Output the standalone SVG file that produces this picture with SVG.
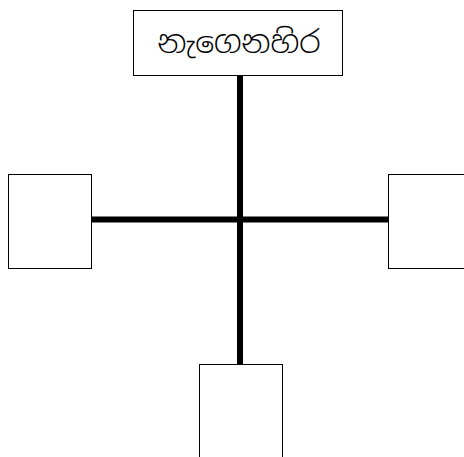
<svg xmlns="http://www.w3.org/2000/svg" width="464" height="457" viewBox="0 0 464 457">
<style>
.box{fill:#fff;stroke:#000;stroke-width:1}
.conn{stroke:#000;stroke-width:6;fill:none}
.lbl{font-family:"Noto Sans Sinhala","Iskoola Pota","Noto Sans","DejaVu Sans",sans-serif;font-size:31px;font-weight:300;fill:#000}
</style>
<rect width="464" height="457" fill="#fff"/>
<g id="connectors">
<line class="conn" x1="240" y1="75" x2="240" y2="364"/>
<line class="conn" x1="92" y1="219.5" x2="388" y2="219.5"/>
</g>
<g id="node-top">
<rect class="box" x="133.5" y="10.5" width="209" height="65"/>
<text class="lbl" x="239" y="53" text-anchor="middle">නැගෙනහිර</text>
</g>
<g id="node-left">
<rect class="box" x="8.5" y="174.5" width="83" height="94"/>
</g>
<g id="node-right">
<rect class="box" x="388.5" y="174.5" width="83" height="94"/>
</g>
<g id="node-bottom">
<rect class="box" x="199.5" y="364.5" width="83" height="100"/>
</g>
</svg>
